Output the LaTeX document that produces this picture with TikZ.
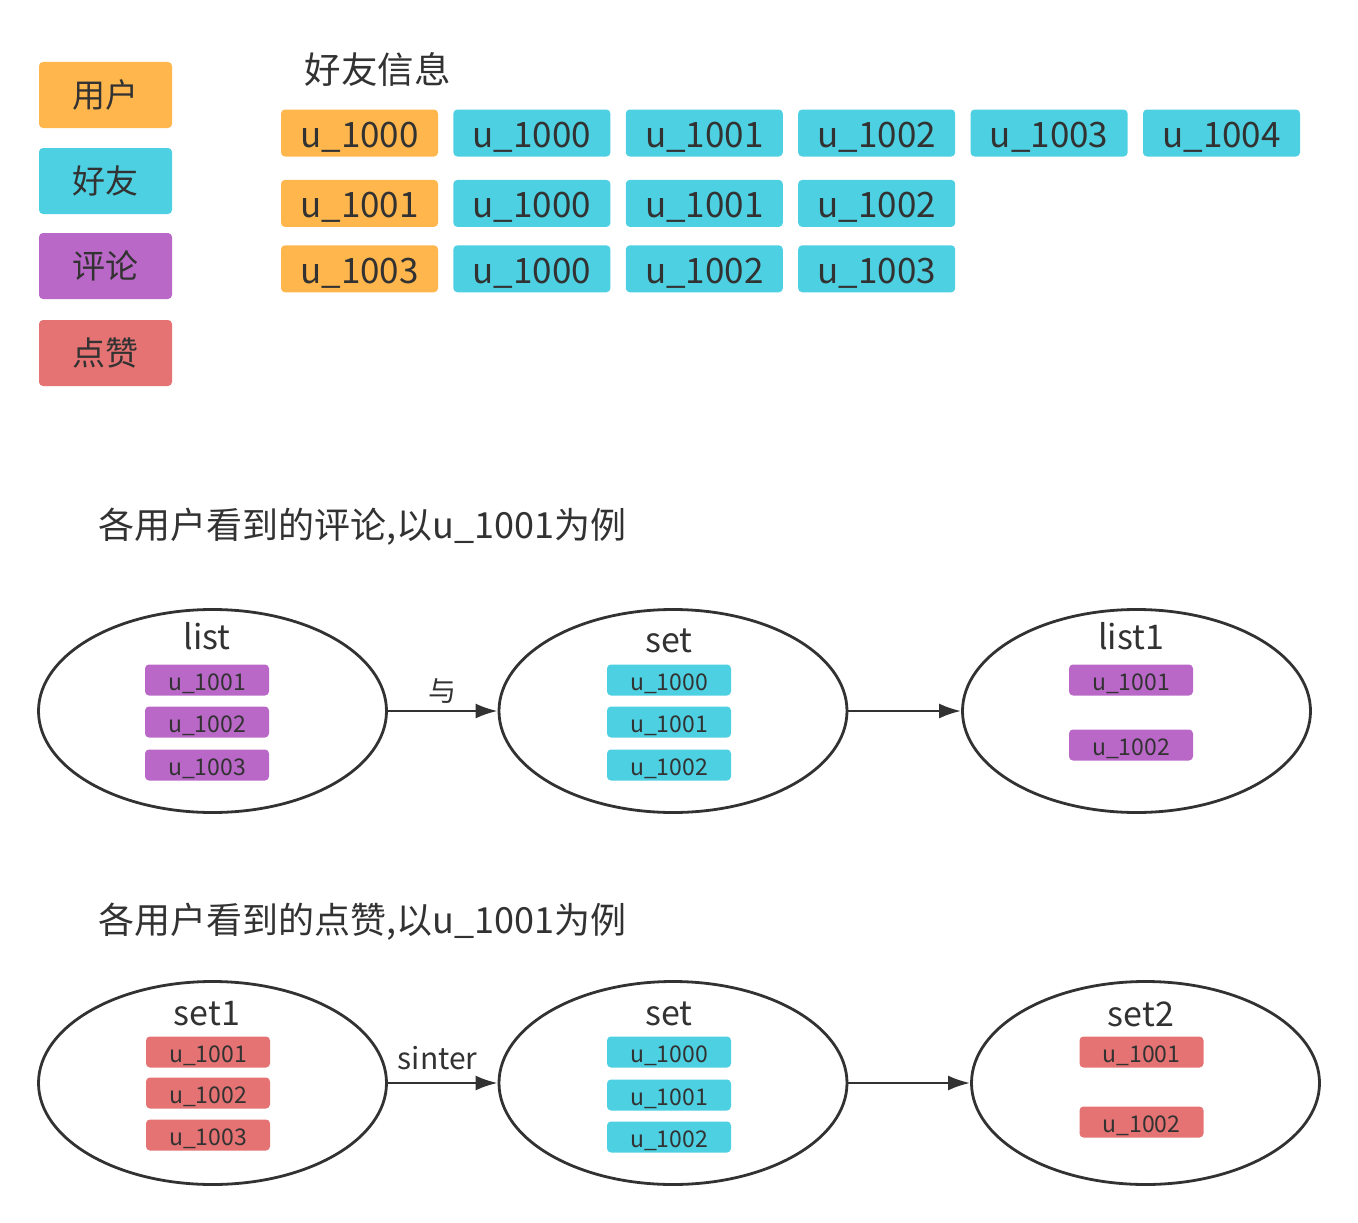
\documentclass[tikz,border=0pt]{standalone}
\usepackage{fontspec}
\setmainfont{Noto Sans CJK SC}
\usetikzlibrary{shapes.geometric,arrows.meta,positioning}
\definecolor{userc}{HTML}{FFB74D}
\definecolor{friendc}{HTML}{4DD0E1}
\definecolor{commentc}{HTML}{BA68C8}
\definecolor{likec}{HTML}{E57373}
\definecolor{ink}{HTML}{323232}

\begin{document}
\begin{tikzpicture}[x=1pt, y=-1pt, node distance=23pt and 15pt, chip/.style={
% The shape:
rectangle, rounded corners=4pt,
% The size:
inner sep=0pt,
% The text:
text=ink
}, legend/.style={chip, minimum width=133pt, minimum height=66pt, font=\fontsize{33}{40}\selectfont},
tag/.style={chip, minimum width=157pt, minimum height=47pt, text height=29pt, text depth=0pt, font=\fontsize{35}{40}\selectfont},
item/.style={chip, minimum width=124pt, minimum height=31pt, text height=21pt, text depth=0pt, font=\fontsize{23}{26}\selectfont},
bag/.style={ellipse, draw=ink, line width=2.8pt, minimum width=348pt, minimum height=203pt, inner sep=0pt},
bagname/.style={text=ink, font=\fontsize{34}{40}\selectfont},
heading/.style={text=ink, anchor=west, font=\fontsize{36}{40}\selectfont},
arr/.style={draw=ink, line width=2.5pt, -{Latex[length=22pt,width=15pt]}}]

	\useasboundingbox (0,0) rectangle (1358,1223);

	% legend
	\node (lgUser) [legend, fill=userc] at (105.5,95) {用户};
	\node (lgFriend) [legend, fill=friendc] at (105.5,181) {好友};
	\node (lgComment) [legend, fill=commentc] at (105.5,266) {评论};
	\node (lgLike) [legend, fill=likec] at (105.5,353) {点赞};

	% friend table
	\node (infoTitle) [heading, font=\fontsize{36.5}{40}\selectfont] at (301,70) {好友信息};

	\node (u0) [tag, fill=userc] at (359.5,133) {u\_1000};
	\node (u0a) [tag, fill=friendc, right=of u0] {u\_1000};
	\node (u0b) [tag, fill=friendc, right=of u0a] {u\_1001};
	\node (u0c) [tag, fill=friendc, right=of u0b] {u\_1002};
	\node (u0d) [tag, fill=friendc, right=of u0c] {u\_1003};
	\node (u0e) [tag, fill=friendc, right=of u0d] {u\_1004};

	\node (u1) [tag, fill=userc, below=of u0] {u\_1001};
	\node (u1a) [tag, fill=friendc, right=of u1] {u\_1000};
	\node (u1b) [tag, fill=friendc, right=of u1a] {u\_1001};
	\node (u1c) [tag, fill=friendc, right=of u1b] {u\_1002};

	\node (u3) [tag, fill=userc, below=18pt of u1] {u\_1003};
	\node (u3a) [tag, fill=friendc, right=of u3] {u\_1000};
	\node (u3b) [tag, fill=friendc, right=of u3a] {u\_1002};
	\node (u3c) [tag, fill=friendc, right=of u3b] {u\_1003};

	% comments
	\node (commentTitle) [heading] at (95,527) {各用户看到的评论,以u\_1001为例};

	\node (list) [bag] at (212.5,711) {};
	\node (listName) [bagname] at (207,636) {list};
	\node (listA) [item, fill=commentc] at (207,680) {u\_1001};
	\node (listB) [item, fill=commentc] at (207,722) {u\_1002};
	\node (listC) [item, fill=commentc] at (207,765) {u\_1003};

	\node (fset) [bag] at (673,711) {};
	\node (fsetName) [bagname] at (669,641) {set};
	\node (fsetA) [item, fill=friendc] at (669,680) {u\_1000};
	\node (fsetB) [item, fill=friendc] at (669,722) {u\_1001};
	\node (fsetC) [item, fill=friendc] at (669,765) {u\_1002};

	\node (list1) [bag] at (1136.5,711) {};
	\node (list1Name) [bagname] at (1131,636) {list1};
	\node (list1A) [item, fill=commentc] at (1131,680) {u\_1001};
	\node (list1B) [item, fill=commentc] at (1131,745) {u\_1002};

	\draw[arr] (list) -- (fset) node (andLabel) [midway, above=3pt, text=ink, font=\fontsize{28}{30}\selectfont] {与};
	\draw[arr] (fset) -- (list1);

	% likes
	\node (likeTitle) [heading] at (95,922) {各用户看到的点赞,以u\_1001为例};

	\node (set1) [bag] at (212.5,1083) {};
	\node (set1Name) [bagname] at (207,1014) {set1};
	\node (set1A) [item, fill=likec] at (208,1052) {u\_1001};
	\node (set1B) [item, fill=likec] at (208,1093) {u\_1002};
	\node (set1C) [item, fill=likec] at (208,1135) {u\_1003};

	\node (lset) [bag] at (673,1083) {};
	\node (lsetName) [bagname] at (669,1014) {set};
	\node (lsetA) [item, fill=friendc] at (669,1052) {u\_1000};
	\node (lsetB) [item, fill=friendc] at (669,1095) {u\_1001};
	\node (lsetC) [item, fill=friendc] at (669,1137) {u\_1002};

	\node (set2) [bag] at (1145.5,1083) {};
	\node (set2Name) [bagname] at (1141,1014) {set2};
	\node (set2A) [item, fill=likec] at (1141.5,1052) {u\_1001};
	\node (set2B) [item, fill=likec] at (1141.5,1122) {u\_1002};

	\draw[arr] (set1) -- (lset) node (sinterLabel) [midway, above=9pt, xshift=-5pt, text=ink, font=\fontsize{30}{32}\selectfont] {sinter};
	\draw[arr] (lset) -- (set2);
\end{tikzpicture}
\end{document}
